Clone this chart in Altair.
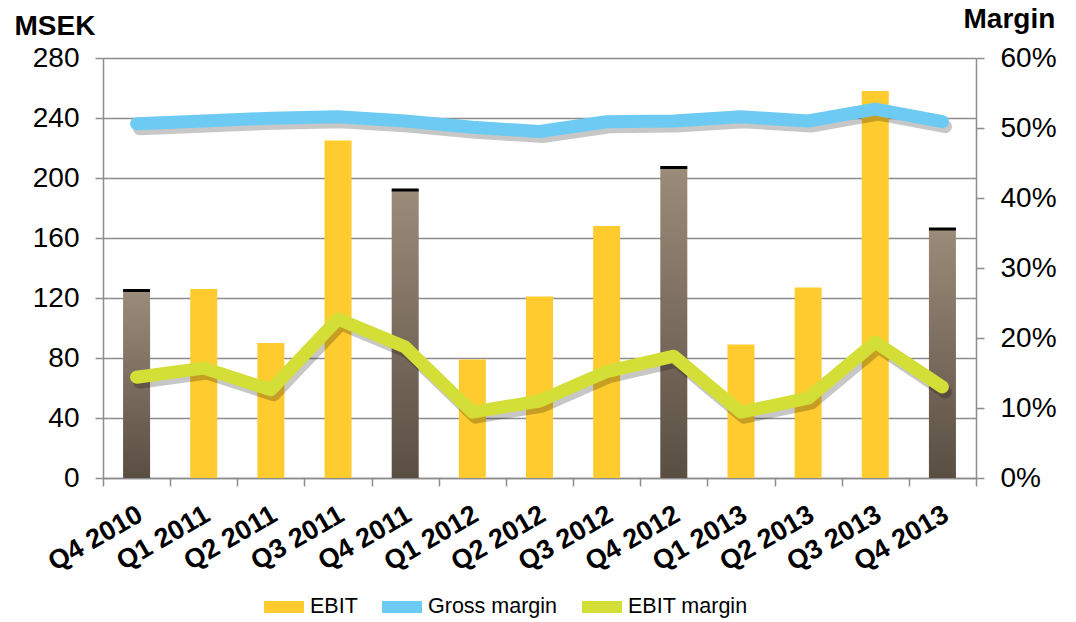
import altair as alt
import pandas as pd

quarters = ["Q4 2010", "Q1 2011", "Q2 2011", "Q3 2011", "Q4 2011", "Q1 2012", "Q2 2012",
            "Q3 2012", "Q4 2012", "Q1 2013", "Q2 2013", "Q3 2013", "Q4 2013"]
ebit = [125, 126, 90, 225, 192, 79, 121, 168, 207, 89, 127, 258, 166]
gross_margin = [50.6, 51.0, 51.4, 51.6, 51.0, 50.1, 49.5, 50.9, 51.0, 51.6, 51.0, 52.7, 50.9]
ebit_margin = [14.4, 15.7, 12.6, 22.7, 18.7, 9.4, 11.0, 15.2, 17.4, 9.4, 11.4, 19.4, 13.0]
series_names = ["EBIT", "Gross margin", "EBIT margin"]
series_colors = ["#FFCB2F", "#6DCBF3", "#D3DE36"]
left_ticks = [0, 40, 80, 120, 160, 200, 240, 280]
right_ticks = [0, 10, 20, 30, 40, 50, 60]

FONT = "Liberation Sans"

bars_df = pd.DataFrame({"quarter": quarters, "ebit": ebit,
                        "q4": [q.startswith("Q4") for q in quarters]})
lines_df = pd.DataFrame({
    "quarter": quarters * 2,
    "series": [series_names[1]] * len(quarters) + [series_names[2]] * len(quarters),
    "value": gross_margin + ebit_margin,
})

x_enc = alt.X("quarter:N", sort=quarters, title=None,
              scale=alt.Scale(paddingInner=0, paddingOuter=0),
              axis=alt.Axis(tickBand="extent", labelAngle=330, labelAlign="right",
                            labelBaseline="top", labelFontWeight="bold", labelFontSize=27,
                            labelPadding=15, labelOffset=-3, grid=False))

y_left = alt.Y("ebit:Q", scale=alt.Scale(domain=[0, 280]),
               axis=alt.Axis(values=left_ticks, grid=True, title="MSEK",
                             titleAngle=0, titleAlign="left", titleBaseline="alphabetic",
                             titleX=-89, titleY=-24, titleFontSize=28, titleFontWeight="bold",
                             titleFont=FONT, labelPadding=16))

base_bars = alt.Chart(bars_df)
yellow = base_bars.transform_filter("!datum.q4").mark_bar(size=27, color=series_colors[0]).encode(
    x=x_enc, y=y_left)
brown = base_bars.transform_filter("datum.q4").mark_bar(
    size=27,
    color=alt.LinearGradient(gradient="linear",
                             stops=[alt.GradientStop(color="#9B8B79", offset=0),
                                    alt.GradientStop(color="#5A4E43", offset=1)],
                             x1=0, x2=0, y1=0, y2=1)).encode(x=x_enc, y=y_left)
caps = base_bars.transform_filter("datum.q4").mark_tick(
    color="black", thickness=3, size=27, opacity=1).encode(x=x_enc, y=y_left)

bar_group = alt.layer(yellow, brown, caps)

y_right = alt.Y("value:Q", scale=alt.Scale(domain=[0, 60]),
                axis=alt.Axis(orient="right", values=right_ticks, grid=False,
                              labelExpr="datum.value + '%'", title="Margin",
                              titleAngle=0, titleAlign="left", titleBaseline="alphabetic",
                              titleX=-13, titleY=-31, titleFontSize=28, titleFontWeight="bold",
                              titleFont=FONT, labelPadding=16))

base_lines = alt.Chart(lines_df)
shadow = base_lines.mark_line(strokeWidth=13, strokeCap="round", strokeJoin="round",
                              color="#000000", opacity=0.22, xOffset=3, yOffset=5).encode(
    x=x_enc, y=y_right, detail="series:N")
lines = base_lines.mark_line(strokeWidth=13, strokeCap="round", strokeJoin="round").encode(
    x=x_enc, y=y_right,
    color=alt.Color("series:N",
                    scale=alt.Scale(domain=series_names, range=series_colors),
                    legend=alt.Legend(orient="none", legendX=155, legendY=523,
                                      direction="horizontal", title=None,
                                      symbolType="stroke", symbolStrokeWidth=12,
                                      symbolSize=1600, symbolOpacity=1,
                                      labelFontSize=21.5, labelFont=FONT, labelColor="black",
                                      labelOffset=0, columnPadding=0)),
)
line_group = alt.layer(shadow, lines)

chart = alt.layer(bar_group, line_group).resolve_scale(y="independent").properties(
    width=873, height=420,
    autosize=alt.AutoSizeParams(type="none"),
    padding={"left": 103, "top": 58, "right": 100, "bottom": 144},
    background="white",
).configure_view(stroke=None).configure_axis(
    domainColor="#8c8c8c", domainWidth=1.5, tickColor="#8c8c8c", tickWidth=1.5, tickSize=8,
    gridColor="#8c8c8c", gridWidth=1.5, labelFont=FONT, labelFontSize=28, labelColor="black",
    titleColor="black",
)

chart.save("out.html", embed_options={"renderer": "svg", "actions": False})
